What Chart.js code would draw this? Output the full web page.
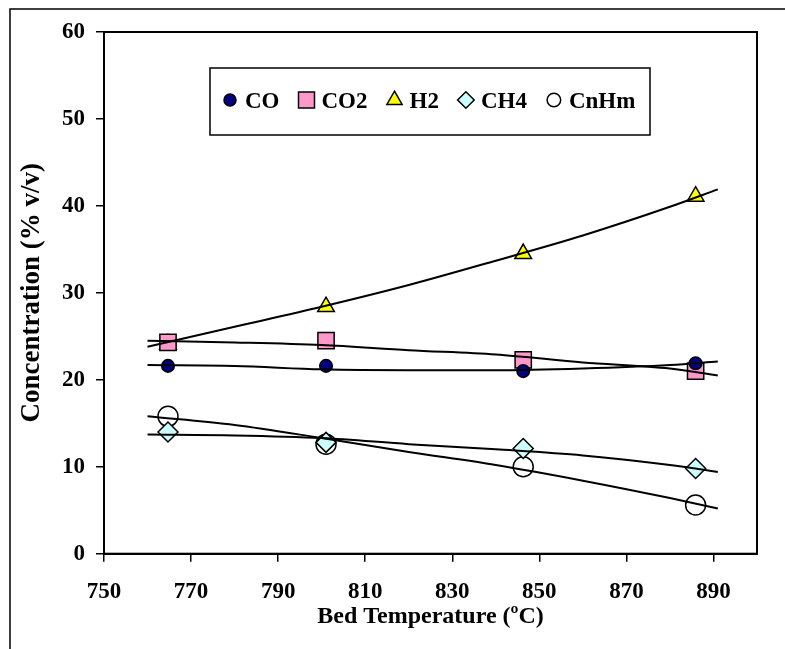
<!DOCTYPE html>
<html>
<head>
<meta charset="utf-8">
<script src="https://cdn.jsdelivr.net/npm/chart.js@4/dist/chart.umd.min.js"></script>
<style>
  html, body { margin: 0; padding: 0; background: #fff; }
  canvas { display: block; }
</style>
</head>
<body>
<canvas id="chart" width="785" height="649"></canvas>
<script>
// measured points (bed temperature, ºC)
const bedTemp = [764.7, 801.0, 846.3, 885.9];
const coValues = [21.6, 21.6, 21.0, 21.9];
const co2Values = [24.3, 24.5, 22.3, 21.0];
const h2Values = [24.1, 28.4, 34.5, 41.1];
const ch4Values = [14.0, 12.8, 12.1, 9.8];
const cnhmValues = [15.8, 12.6, 10.0, 5.6];

// trend lines at these temperatures
const trendTemp = [760, 780, 800, 820, 840, 860, 880, 891];
const coTrend = [21.7, 21.6, 21.2, 21.1, 21.1, 21.3, 21.7, 22.1];
const co2Trend = [24.5, 24.3, 24.0, 23.4, 22.9, 22.0, 21.3, 20.5];
const h2Trend = [23.8, 26.1, 28.4, 30.9, 33.7, 36.6, 39.9, 41.9];
const ch4Trend = [13.7, 13.6, 13.3, 12.6, 12.0, 11.3, 10.2, 9.4];
const cnhmTrend = [15.8, 14.8, 13.3, 11.7, 10.2, 8.4, 6.4, 5.2];

const xTicks = [750, 770, 790, 810, 830, 850, 870, 890];
const yTicks = [0, 10, 20, 30, 40, 50, 60];

const FONT = "'Liberation Serif', 'Times New Roman', serif";

function pts(xs, ys) {
  return xs.map((x, i) => ({ x: x, y: ys[i] }));
}

const series = [
  { label: 'CO', values: coValues, trend: coTrend, style: 'circle', fill: '#000080', r: 6.3, lr: 6 },
  { label: 'CO2', values: co2Values, trend: co2Trend, style: 'rect', fill: '#FF99CC', r: 11.5, lr: 11.3 },
  { label: 'H2', values: h2Values, trend: h2Trend, style: 'triangle', fill: '#FFFF00', r: 9.6, lr: 8.8 },
  { label: 'CH4', values: ch4Values, trend: ch4Trend, style: 'rectRot', fill: '#CCFFFF', r: 10, lr: 8.3 },
  { label: 'CnHm', values: cnhmValues, trend: cnhmTrend, style: 'circle', fill: '#FFFFFF', r: 10, lr: 6.8 }
];

const datasets = [];
series.forEach(s => {
  datasets.push({
    label: s.label,
    data: pts(bedTemp, s.values),
    showLine: false,
    pointStyle: s.style,
    pointRadius: s.r,
    pointHoverRadius: s.r,
    pointBackgroundColor: s.fill,
    pointBorderColor: '#000',
    pointBorderWidth: 1.5,
    order: 2
  });
});
series.forEach(s => {
  datasets.push({
    label: s.label + ' trend',
    data: pts(trendTemp, s.trend),
    showLine: true,
    borderColor: '#000',
    borderWidth: 2,
    pointRadius: 0,
    cubicInterpolationMode: 'monotone',
    order: 1
  });
});

function drawMarker(ctx, style, x, y, r, fill) {
  ctx.save();
  ctx.fillStyle = fill;
  ctx.strokeStyle = '#000';
  ctx.lineWidth = 1.5;
  ctx.beginPath();
  if (style === 'circle') {
    ctx.arc(x, y, r, 0, Math.PI * 2);
  } else if (style === 'rect') {
    const s = r * Math.SQRT1_2;
    ctx.rect(x - s, y - s, 2 * s, 2 * s);
  } else if (style === 'triangle') {
    ctx.moveTo(x, y - r);
    ctx.lineTo(x + r * Math.sin(Math.PI * 2 / 3), y - r * Math.cos(Math.PI * 2 / 3));
    ctx.lineTo(x + r * Math.sin(Math.PI * 4 / 3), y - r * Math.cos(Math.PI * 4 / 3));
    ctx.closePath();
  } else if (style === 'rectRot') {
    ctx.moveTo(x, y - r);
    ctx.lineTo(x + r, y);
    ctx.lineTo(x, y + r);
    ctx.lineTo(x - r, y);
    ctx.closePath();
  }
  ctx.fill();
  ctx.stroke();
  ctx.restore();
}

const framePlugin = {
  id: 'frame',
  beforeDraw(chart) {
    const ctx = chart.ctx;
    ctx.save();
    ctx.fillStyle = '#fff';
    ctx.fillRect(0, 0, chart.width, chart.height);
    ctx.strokeStyle = '#000';
    ctx.lineWidth = 1.5;
    ctx.beginPath();
    ctx.moveTo(10, chart.height);
    ctx.lineTo(10, 9);
    ctx.lineTo(chart.width, 9);
    ctx.stroke();
    ctx.restore();
  },
  afterDraw(chart) {
    const ctx = chart.ctx;
    const a = chart.chartArea;
    ctx.save();
    ctx.strokeStyle = '#000';
    ctx.lineWidth = 2;
    ctx.strokeRect(a.left, a.top, a.right - a.left, a.bottom - a.top);

    // legend box
    ctx.lineWidth = 1.5;
    ctx.fillStyle = '#fff';
    ctx.fillRect(210, 68, 440, 67);
    ctx.strokeRect(210, 68, 440, 67);
    ctx.font = 'bold 23px ' + FONT;
    ctx.fillStyle = '#000';
    ctx.textBaseline = 'alphabetic';
    let x = 230;
    series.forEach(s => {
      drawMarker(ctx, s.style, x, 100, s.lr, s.fill);
      const tx = x + 15;
      ctx.fillText(s.label, tx, 107.5);
      x = tx + ctx.measureText(s.label).width + 27;
    });
    ctx.restore();
  }
};

new Chart(document.getElementById('chart'), {
  type: 'scatter',
  data: { datasets: datasets },
  options: {
    responsive: false,
    animation: false,
    layout: { padding: { left: 0, right: 28, top: 32, bottom: 0 } },
    plugins: {
      legend: { display: false },
      tooltip: { enabled: false }
    },
    scales: {
      x: {
        type: 'linear',
        min: 750,
        max: 900,
        afterBuildTicks: scale => { scale.ticks = xTicks.map(v => ({ value: v })); },
        afterFit: scale => { scale.height = 95.3; },
        grid: { drawOnChartArea: false, drawTicks: true, tickLength: 8, color: '#000', lineWidth: 1.5 },
        border: { display: true, color: '#000', width: 2 },
        ticks: { color: '#000', padding: 17, font: { family: FONT, size: 23, weight: 'bold' } },
        title: {
          display: true,
          text: 'Bed Temperature (ºC)',
          color: '#000',
          padding: { top: 0, bottom: 18 },
          font: { family: FONT, size: 24, weight: 'bold' }
        }
      },
      y: {
        min: 0,
        max: 60,
        afterBuildTicks: scale => { scale.ticks = yTicks.map(v => ({ value: v })); },
        afterFit: scale => { scale.width = 104; },
        grid: { drawOnChartArea: false, drawTicks: true, tickLength: 8, color: '#000', lineWidth: 1.5 },
        border: { display: true, color: '#000', width: 2 },
        ticks: { color: '#000', padding: 11, font: { family: FONT, size: 23, weight: 'bold' } },
        title: {
          display: true,
          text: 'Concentration (% v/v)',
          color: '#000',
          padding: { top: 16, bottom: 0 },
          font: { family: FONT, size: 27, weight: 'bold' }
        }
      }
    }
  },
  plugins: [framePlugin]
});
</script>
</body>
</html>
